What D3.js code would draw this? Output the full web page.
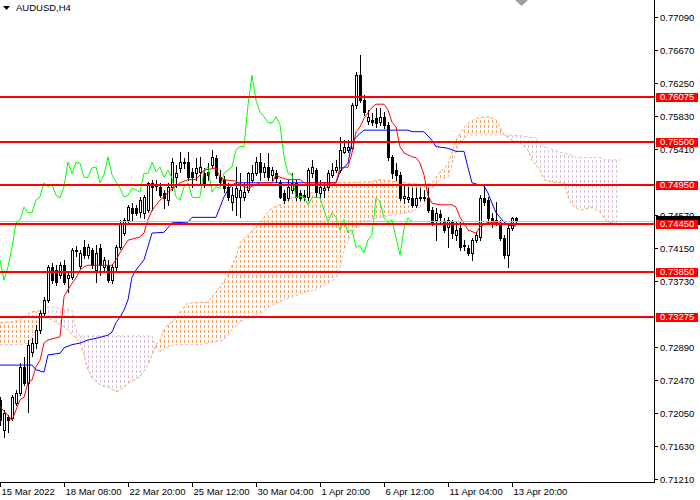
<!DOCTYPE html>
<html lang="en">
<head>
<meta charset="UTF-8">
<title>AUDUSD,H4</title>
<script src="https://d3js.org/d3.v7.min.js"></script>
<style>
  body { margin: 0; background: #fff; }
  text { font-family: "Liberation Sans", Arial, sans-serif; }
</style>
</head>
<body>
<div id="chart"></div>
<script>
// time axis labels (bar index of each label)
const timeLabels = ["15 Mar 2022", "18 Mar 08:00", "22 Mar 20:00", "25 Mar 12:00", "30 Mar 04:00",
                    "1 Apr 20:00", "6 Apr 12:00", "11 Apr 04:00", "13 Apr 20:00"];
const timeLabelBars = [0, 16, 32, 48, 64, 80, 96, 112, 128];

// price axis ticks (0.74990 and 0.73310 sit under level labels and are not shown)
const priceTicks = [0.77090, 0.76670, 0.76250, 0.75830, 0.75410, 0.74570, 0.74150,
                    0.73730, 0.72890, 0.72470, 0.72050, 0.71630, 0.71210];

// horizontal levels
const levels = [0.76075, 0.75500, 0.74950, 0.74450, 0.73850, 0.73275];

// H4 candles
const opens = [
  .7222,.7183,.7200,.7199,.7218,.7230,.7264,.7243,.7283,.7294,
  .7311,.7332,.7349,.7391,.7387,.7381,.7393,.7377,.7378,.7412,
  .7392,.7416,.7406,.7412,.7387,.7415,.7391,.7393,.7374,.7391,
  .7416,.7434,.7451,.7466,.7466,.7461,.7460,.7463,.7498,.7494,
  .7493,.7485,.7476,.7493,.7505,.7517,.7524,.7524,.7512,.7510,
  .7512,.7510,.7512,.7521,.7530,.7505,.7502,.7493,.7474,.7480,
  .7480,.7480,.7489,.7502,.7510,.7524,.7512,.7518,.7508,.7510,
  .7499,.7485,.7479,.7489,.7498,.7485,.7482,.7480,.7510,.7514,
  .7485,.7489,.7493,.7508,.7514,.7514,.7537,.7540,.7542,.7597,
  .7635,.7603,.7577,.7578,.7580,.7575,.7582,.7572,.7531,.7514,
  .7508,.7479,.7477,.7479,.7470,.7479,.7480,.7479,.7463,.7451,
  .7458,.7448,.7442,.7448,.7432,.7440,.7419,.7415,.7409,.7425,
  .7429,.7479,.7476,.7453,.7448,.7447,.7428,.7406,.7440,.7453
];
const highs = [
  .7225,.7209,.7202,.7228,.7234,.7269,.7276,.7298,.7300,.7317,
  .7336,.7353,.7393,.7396,.7393,.7397,.7400,.7384,.7415,.7418,
  .7412,.7425,.7420,.7415,.7419,.7420,.7404,.7400,.7395,.7419,
  .7451,.7453,.7470,.7472,.7470,.7480,.7482,.7499,.7502,.7502,
  .7498,.7489,.7498,.7530,.7521,.7537,.7530,.7537,.7517,.7530,
  .7531,.7517,.7523,.7540,.7533,.7514,.7507,.7498,.7493,.7518,
  .7510,.7498,.7512,.7521,.7531,.7536,.7523,.7536,.7518,.7514,
  .7502,.7489,.7502,.7510,.7502,.7489,.7489,.7517,.7527,.7517,
  .7502,.7498,.7514,.7523,.7527,.7556,.7552,.7552,.7600,.7639,
  .7661,.7610,.7591,.7587,.7593,.7593,.7588,.7575,.7533,.7523,
  .7512,.7495,.7493,.7491,.7491,.7491,.7489,.7491,.7467,.7466,
  .7463,.7453,.7454,.7451,.7448,.7448,.7425,.7419,.7428,.7435,
  .7482,.7494,.7480,.7460,.7474,.7451,.7432,.7444,.7454,.7454
];
const lows = [
  .7190,.7174,.7181,.7196,.7215,.7228,.7241,.7206,.7278,.7288,
  .7307,.7328,.7346,.7370,.7368,.7377,.7369,.7359,.7376,.7405,
  .7390,.7402,.7402,.7390,.7372,.7381,.7387,.7372,.7370,.7387,
  .7414,.7432,.7448,.7451,.7457,.7454,.7453,.7461,.7463,.7489,
  .7480,.7466,.7470,.7489,.7493,.7512,.7517,.7502,.7493,.7502,
  .7495,.7493,.7502,.7517,.7504,.7495,.7486,.7476,.7463,.7457,
  .7454,.7476,.7486,.7499,.7508,.7502,.7505,.7502,.7502,.7499,
  .7479,.7472,.7476,.7485,.7476,.7476,.7476,.7476,.7505,.7480,
  .7480,.7480,.7489,.7505,.7512,.7512,.7536,.7537,.7540,.7593,
  .7601,.7584,.7573,.7572,.7569,.7572,.7568,.7527,.7504,.7502,
  .7476,.7472,.7474,.7467,.7467,.7476,.7476,.7461,.7444,.7425,
  .7448,.7435,.7416,.7428,.7425,.7412,.7412,.7406,.7400,.7423,
  .7425,.7470,.7448,.7442,.7444,.7425,.7402,.7391,.7438,.7447
];
const closes = [
  .7196,.7205,.7196,.7225,.7230,.7264,.7243,.7292,.7294,.7311,
  .7332,.7349,.7391,.7374,.7372,.7393,.7372,.7381,.7412,.7411,
  .7409,.7406,.7416,.7393,.7409,.7393,.7400,.7374,.7391,.7416,
  .7447,.7451,.7467,.7460,.7460,.7476,.7480,.7498,.7493,.7496,
  .7482,.7479,.7493,.7524,.7510,.7524,.7523,.7505,.7505,.7517,
  .7518,.7498,.7508,.7531,.7508,.7499,.7491,.7480,.7482,.7491,
  .7489,.7486,.7510,.7510,.7524,.7512,.7518,.7505,.7514,.7504,
  .7480,.7476,.7493,.7498,.7480,.7479,.7480,.7514,.7518,.7486,
  .7493,.7491,.7510,.7514,.7518,.7540,.7544,.7544,.7597,.7635,
  .7603,.7588,.7582,.7575,.7574,.7582,.7572,.7531,.7510,.7508,
  .7479,.7481,.7480,.7470,.7479,.7480,.7479,.7463,.7448,.7460,
  .7454,.7438,.7451,.7434,.7438,.7416,.7418,.7409,.7425,.7432,
  .7479,.7474,.7453,.7447,.7451,.7428,.7406,.7440,.7453,.7449
];

// Ichimoku lines: [bar, price]
const tenkan = [[0,.7213],[3,.7196],[5,.7222],[6,.7225],[7,.7244],[8,.7247],[9,.7264],[10,.7272],
  [11,.7294],[12,.7298],[15,.7302],[16,.7353],[17,.7362],[18,.7370],[19,.7377],[20,.7387],[21,.7391],
  [22,.7393],[28,.7393],[29,.7400],[30,.7409],[32,.7425],[35,.7429],[36,.7434],[37,.7451],[38,.7463],
  [40,.7476],[41,.7480],[42,.7486],[45,.7498],[47,.7502],[49,.7502],[50,.7508],[51,.7514],[54,.7517],
  [55,.7505],[56,.7502],[59,.7500],[60,.7496],[62,.7491],[65,.7498],[68,.7498],[69,.7508],[70,.7505],
  [72,.7502],[75,.7502],[76,.7498],[84,.7498],[85,.7517],[87,.7518],[88,.7536],[89,.7563],[90,.7569],
  [91,.7580],[93,.7594],[94,.7598],[96,.7598],[97,.7591],[98,.7575],[99,.7569],[100,.7544],[101,.7536],
  [103,.7531],[104,.7530],[105,.7523],[106,.7508],[107,.7482],[108,.7472],[110,.7470],[113,.7470],
  [114,.7467],[115,.7454],[117,.7438],[119,.7434],[120,.7442],[122,.7448],[129,.7445]];
const kijun = [[0,.7266],[8,.7266],[9,.7260],[11,.7257],[12,.7279],[15,.7281],[16,.7288],[18,.7292],
  [20,.7294],[22,.7298],[24,.7300],[27,.7304],[28,.7308],[29,.7320],[30,.7327],[31,.7336],[32,.7349],
  [33,.7378],[34,.7387],[36,.7400],[38,.7434],[41,.7435],[43,.7447],[47,.7448],[48,.7454],[54,.7454],
  [55,.7467],[56,.7480],[57,.7489],[58,.7495],[59,.7498],[84,.7498],[85,.7512],[87,.7523],[88,.7550],
  [90,.7561],[91,.7565],[102,.7565],[103,.7563],[106,.7563],[108,.7552],[109,.7544],[112,.7542],
  [114,.7538],[116,.7538],[117,.7517],[118,.7498],[120,.7495],[121,.7494],[122,.7485],[123,.7472],
  [124,.7460],[125,.7454],[126,.7448],[127,.7444],[129,.7443]];
const spanA = [[0,.7320],[3,.7321],[5,.7323],[7,.7331],[8,.7334],[10,.7335],[11,.7330],[12,.7326],
  [14,.7321],[17,.7311],[19,.7300],[20,.7295],[21,.7279],[22,.7260],[23,.7250],[25,.7241],[27,.7238],
  [29,.7232],[30,.7234],[32,.7243],[35,.7251],[37,.7266],[38,.7279],[39,.7292],[40,.7298],[41,.7311],
  [42,.7317],[44,.7326],[45,.7334],[47,.7345],[52,.7346],[53,.7353],[55,.7365],[57,.7381],[59,.7404],
  [60,.7421],[62,.7432],[65,.7447],[66,.7454],[68,.7466],[71,.7472],[73,.7479],[76,.7482],[80,.7489],
  [84,.7498],[92,.7499],[95,.7502],[100,.7499],[106,.7495],[108,.7498],[110,.7512],[112,.7521],
  [113,.7536],[114,.7552],[115,.7561],[117,.7574],[119,.7580],[122,.7582],[124,.7578],[125,.7569],
  [126,.7559],[128,.7552],[130,.7549],[132,.7540],[133,.7527],[135,.7514],[136,.7502],[138,.7499],
  [141,.7498],[142,.7480],[143,.7470],[145,.7463],[148,.7467],[150,.7461],[151,.7453],[152,.7448],
  [155,.7444]];
const spanB = [[0,.7292],[5,.7292],[7,.7294],[9,.7311],[10,.7330],[11,.7339],[12,.7340],[18,.7336],
  [19,.7311],[20,.7303],[38,.7303],[39,.7288],[40,.7283],[42,.7289],[44,.7292],[50,.7292],[53,.7295],
  [56,.7298],[58,.7311],[60,.7321],[62,.7326],[65,.7332],[68,.7342],[72,.7351],[76,.7358],[79,.7362],
  [82,.7370],[84,.7377],[85,.7390],[86,.7412],[88,.7435],[91,.7448],[94,.7453],[98,.7457],[103,.7461],
  [106,.7470],[107,.7482],[108,.7491],[110,.7502],[112,.7505],[113,.7521],[114,.7537],[115,.7549],
  [117,.7559],[125,.7559],[130,.7558],[134,.7555],[136,.7544],[138,.7540],[143,.7533],[144,.7530],
  [150,.7530],[151,.7527],[155,.7527]];
const chikouShift = 26;

const W = 700, H = 500;
const plotRight = 654, plotBottom = 482;

// 4 px per bar
const x = d3.scaleLinear().domain([0, plotRight / 4]).range([0, plotRight]);
const y = d3.scaleLinear().domain([0.71210, 0.77090]).range([479, 17]);
const py = v => Math.round(y(v));

const svg = d3.select("#chart").append("svg")
  .attr("width", W).attr("height", H).style("display", "block");
svg.append("rect").attr("width", W).attr("height", H).attr("fill", "#fff");

const defs = svg.append("defs");
defs.append("clipPath").attr("id", "plot")
  .append("rect").attr("width", plotRight).attr("height", plotBottom);

// dotted histogram hatching of the cloud
function hatch(id, color) {
  const p = defs.append("pattern").attr("id", id)
    .attr("patternUnits", "userSpaceOnUse").attr("width", 4).attr("height", 5);
  p.append("rect").attr("width", 1).attr("height", 3).attr("fill", color)
    .attr("shape-rendering", "crispEdges");
}
hatch("hatchA", "#F4A460");
hatch("hatchB", "#D8BFD8");

const line = d3.line().x(d => x(d[0])).y(d => y(d[1]));
const cloudD = line(spanA) + "L" +
  spanB.slice().reverse().map(d => x(d[0]) + "," + y(d[1])).join("L") + "Z";
const below = s => line(s) + `L${x(s[s.length - 1][0])},${H}L${x(s[0][0])},${H}Z`;
defs.append("clipPath").attr("id", "belowA").append("path").attr("d", below(spanA));
defs.append("clipPath").attr("id", "belowB").append("path").attr("d", below(spanB));

const plot = svg.append("g").attr("clip-path", "url(#plot)");

plot.append("path").attr("d", cloudD).attr("fill", "url(#hatchA)").attr("clip-path", "url(#belowA)");
plot.append("path").attr("d", cloudD).attr("fill", "url(#hatchB)").attr("clip-path", "url(#belowB)");
plot.append("path").attr("d", line(spanB)).attr("fill", "none")
  .attr("stroke", "#D8BFD8").attr("stroke-dasharray", "3,2");
plot.append("path").attr("d", line(spanA)).attr("fill", "none")
  .attr("stroke", "#F4A460").attr("stroke-dasharray", "3,2");

// candles
const bars = d3.range(closes.length);
const cg = plot.append("g").attr("shape-rendering", "crispEdges");
cg.selectAll(".wick").data(bars).join("rect").attr("class", "wick")
  .attr("x", i => x(i)).attr("width", 1)
  .attr("y", i => py(highs[i]))
  .attr("height", i => py(lows[i]) - py(highs[i]) + 1)
  .attr("fill", "#000");
cg.selectAll(".bear").data(bars.filter(i => closes[i] < opens[i])).join("rect").attr("class", "bear")
  .attr("x", i => x(i) - 1).attr("width", 3)
  .attr("y", i => py(opens[i]))
  .attr("height", i => Math.max(1, py(closes[i]) - py(opens[i]) + 1))
  .attr("fill", "#000");
cg.selectAll(".bull").data(bars.filter(i => closes[i] >= opens[i])).join("rect").attr("class", "bull")
  .attr("x", i => x(i) - 0.5).attr("width", 2)
  .attr("y", i => py(closes[i]) + 0.5)
  .attr("height", i => Math.max(0, py(opens[i]) - py(closes[i])))
  .attr("fill", "#fff").attr("stroke", "#000");

// tenkan, kijun, chikou
const chikou = bars.filter(i => i >= chikouShift).map(i => [i - chikouShift, closes[i]]);
[[chikou, "#00FF00"], [kijun, "#0000FF"], [tenkan, "#FF0000"]].forEach(([d, c]) => {
  plot.append("path").attr("d", line(d)).attr("fill", "none")
    .attr("stroke", c).attr("stroke-width", 1);
});

// bid line
const bid = closes[closes.length - 1];
plot.append("line").attr("x1", 0).attr("x2", plotRight)
  .attr("y1", py(bid) + 0.5).attr("y2", py(bid) + 0.5)
  .attr("stroke", "#C0C0C0").attr("shape-rendering", "crispEdges");

// levels
plot.selectAll(".level").data(levels).join("line").attr("class", "level")
  .attr("x1", 0).attr("x2", plotRight)
  .attr("y1", d => py(d)).attr("y2", d => py(d))
  .attr("stroke", "#FF0000").attr("stroke-width", 2).attr("shape-rendering", "crispEdges");

// axes
const yAxis = d3.axisRight(y).tickValues(priceTicks).tickSize(4).tickSizeOuter(0)
  .tickPadding(2).tickFormat(d3.format(".5f"));
svg.append("g").attr("transform", `translate(${plotRight},0)`).call(yAxis)
  .attr("font-family", "Liberation Sans, Arial, sans-serif").attr("font-size", 9.5)
  .call(g => g.select(".domain").remove());

const xAxis = d3.axisBottom(x).tickValues(timeLabelBars).tickSize(5).tickSizeOuter(0)
  .tickPadding(1).tickFormat((d, i) => timeLabels[i]);
svg.append("g").attr("transform", `translate(0,${plotBottom})`).call(xAxis)
  .attr("font-family", "Liberation Sans, Arial, sans-serif").attr("font-size", 9.5)
  .call(g => g.select(".domain").remove())
  .call(g => g.selectAll("text").attr("text-anchor", "start").attr("x", 1));

svg.append("line").attr("x1", plotRight + 0.5).attr("x2", plotRight + 0.5)
  .attr("y1", 0).attr("y2", plotBottom + 1).attr("stroke", "#000");
svg.append("line").attr("x1", 0).attr("x2", plotRight + 1)
  .attr("y1", plotBottom + 0.5).attr("y2", plotBottom + 0.5).attr("stroke", "#000");

// price labels on the axis; the bid box sits mostly under the 0.74450 label
svg.append("rect").attr("x", 656).attr("y", py(bid) - 5).attr("width", 44).attr("height", 9)
  .attr("fill", "#000").attr("shape-rendering", "crispEdges");
levels.forEach(v => {
  const yy = py(v);
  svg.append("rect").attr("x", 656).attr("y", yy - 4).attr("width", 42).attr("height", 9)
    .attr("fill", "#FF0000").attr("shape-rendering", "crispEdges");
  svg.append("text").attr("x", 660).attr("y", yy).attr("dy", "0.36em")
    .attr("font-size", 9.5).attr("fill", "#fff").text(v.toFixed(5));
});

// title and chart-shift marker
svg.append("path").attr("d", "M3,6L10,6L6.5,10Z").attr("fill", "#000");
svg.append("text").attr("x", 16).attr("y", 11).attr("font-size", 9.5).attr("fill", "#000").text("AUDUSD,H4");
svg.append("path").attr("d", "M515,0L528,0L521.5,6Z").attr("fill", "#A0A0A0");
</script>
</body>
</html>
